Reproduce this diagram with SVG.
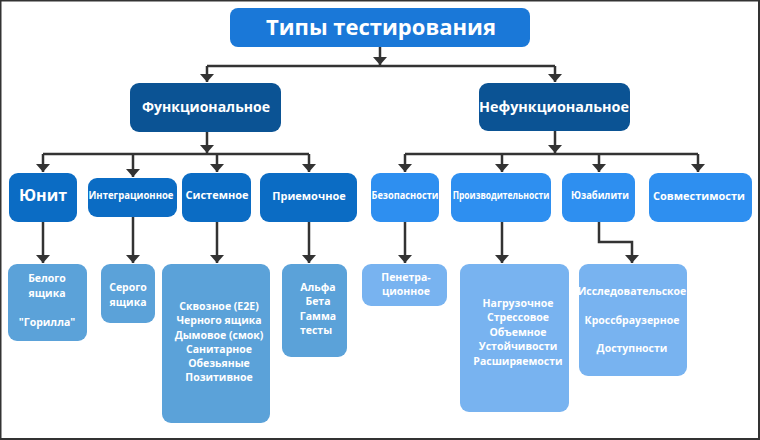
<svg xmlns="http://www.w3.org/2000/svg" width="760" height="440" viewBox="0 0 760 440">
<defs>
<marker id="arr" markerUnits="userSpaceOnUse" markerWidth="8" markerHeight="14" viewBox="0 0 8 14" refX="8" refY="7" orient="auto">
<path d="M0 0 L8 7 L0 14 z" fill="#333"/>
</marker>
<style>
text{font-family:"Open Sans","Noto Sans","DejaVu Sans",sans-serif;font-weight:bold;fill:#fff;text-anchor:middle}
.c{fill:none;stroke:#333;stroke-width:2.5}
.a{marker-end:url(#arr)}
.root{fill:#1a78d8}
.l2{fill:#0b5394}
.l3a{fill:#0b6cc4}
.l3b{fill:#2e8ff0}
.l4a{fill:#5ba2d9}
.l4b{fill:#78b3f0}
.t3{font-size:11px}
.t4{font-size:10.5px}
</style>
</defs>
<rect x="0.5" y="0.5" width="758.5" height="438.5" fill="#fff" stroke="#333" stroke-width="2"/>
<g id="connectors">
<path class="c a" d="M380 47 V65"/>
<path class="c" d="M207 66 H555"/>
<path class="c a" d="M207 66 V82"/>
<path class="c a" d="M555 66 V82"/>
<path class="c a" d="M207 132 V153"/>
<path class="c" d="M43 154 H309"/>
<path class="c a" d="M43 154 V172"/>
<path class="c a" d="M133 154 V177"/>
<path class="c a" d="M217 154 V172"/>
<path class="c a" d="M309 154 V172"/>
<path class="c a" d="M555 131 V153"/>
<path class="c" d="M405 154 H698"/>
<path class="c a" d="M405 154 V172"/>
<path class="c a" d="M502 154 V172"/>
<path class="c a" d="M599 154 V172"/>
<path class="c a" d="M698 154 V172"/>
<path class="c a" d="M43 222 V263"/>
<path class="c a" d="M133 217 V263"/>
<path class="c a" d="M217 222 V263"/>
<path class="c a" d="M309 222 V263"/>
<path class="c a" d="M405 222 V263"/>
<path class="c a" d="M502 222 V263"/>
<path class="c a" d="M599 222 V242 H632 V263"/>
</g>
<g id="root">
<rect class="root" x="230" y="8" width="300" height="39" rx="8"/>
<text x="381" y="35" style="font-size:22px">Типы тестирования</text>
</g>
<g id="func">
<rect class="l2" x="130" y="83" width="151" height="49" rx="9"/>
<text x="206" y="112" style="font-size:14px">Функциональное</text>
</g>
<g id="nonfunc">
<rect class="l2" x="479" y="83" width="151" height="48" rx="9"/>
<text x="554" y="112" style="font-size:14px" textLength="150" lengthAdjust="spacingAndGlyphs">Нефункциональное</text>
</g>
<g id="unit">
<rect class="l3a" x="9" y="173" width="68" height="49" rx="9"/>
<text x="43" y="201" style="font-size:16px">Юнит</text>
</g>
<g id="integr">
<rect class="l3a" x="88" y="178" width="89" height="39" rx="9"/>
<text x="131" y="199" class="t3" textLength="85" lengthAdjust="spacingAndGlyphs">Интеграционное</text>
</g>
<g id="system">
<rect class="l3a" x="182" y="173" width="69" height="49" rx="9"/>
<text x="217" y="199" class="t3">Системное</text>
</g>
<g id="accept">
<rect class="l3a" x="260" y="173" width="97" height="49" rx="9"/>
<text x="309" y="200" class="t3">Приемочное</text>
</g>
<g id="security">
<rect class="l3b" x="371" y="173" width="68" height="49" rx="9"/>
<text x="405" y="199" class="t3" textLength="67" lengthAdjust="spacingAndGlyphs">Безопасности</text>
</g>
<g id="perf">
<rect class="l3b" x="451" y="173" width="100" height="49" rx="9"/>
<text transform="translate(501 199) scale(0.75 1)" x="0" y="0" class="t3" textLength="129" lengthAdjust="spacingAndGlyphs">Производительности</text>
</g>
<g id="usab">
<rect class="l3b" x="562" y="173" width="73" height="49" rx="9"/>
<text x="600" y="199" class="t3" textLength="58" lengthAdjust="spacingAndGlyphs">Юзабилити</text>
</g>
<g id="compat">
<rect class="l3b" x="649" y="173" width="103" height="49" rx="9"/>
<text x="699" y="200" class="t3">Совместимости</text>
</g>
<g id="white">
<rect class="l4a" x="8" y="264" width="79" height="77" rx="9"/>
<text class="t4" x="47" y="282">Белого</text>
<text class="t4" x="47" y="297">ящика</text>
<text class="t4" x="47" y="326">"Горилла"</text>
</g>
<g id="grey">
<rect class="l4a" x="101" y="264" width="54" height="59" rx="9"/>
<text class="t4" x="128" y="291">Серого</text>
<text class="t4" x="128" y="306">ящика</text>
</g>
<g id="syskinds">
<rect class="l4a" x="162" y="264" width="108" height="159" rx="9"/>
<text class="t4" x="219" y="310">Сквозное (E2E)</text>
<text class="t4" x="219" y="324">Черного ящика</text>
<text class="t4" x="219" y="339">Дымовое (смок)</text>
<text class="t4" x="219" y="353">Санитарное</text>
<text class="t4" x="219" y="367">Обезьяные</text>
<text class="t4" x="219" y="381">Позитивное</text>
</g>
<g id="alpha">
<rect class="l4a" x="282" y="264" width="65" height="93" rx="9"/>
<text class="t4" x="318" y="291">Альфа</text>
<text class="t4" x="318" y="305">Бета</text>
<text class="t4" x="318" y="320">Гамма</text>
<text class="t4" x="316" y="334">тесты</text>
</g>
<g id="pen">
<rect class="l4b" x="362" y="264" width="85" height="42" rx="9"/>
<text class="t4" x="406" y="281">Пенетра-</text>
<text class="t4" x="406" y="295">ционное</text>
</g>
<g id="load">
<rect class="l4b" x="460" y="264" width="109" height="148" rx="9"/>
<text class="t4" x="518" y="307">Нагрузочное</text>
<text class="t4" x="518" y="321">Стрессовое</text>
<text class="t4" x="518" y="336">Объемное</text>
<text class="t4" x="518" y="350">Устойчивости</text>
<text class="t4" x="518" y="365">Расширяемости</text>
</g>
<g id="explore">
<rect class="l4b" x="579" y="264" width="108" height="112" rx="9"/>
<text class="t4" x="632" y="295">Исследовательское</text>
<text class="t4" x="632" y="324">Кроссбраузерное</text>
<text class="t4" x="632" y="352">Доступности</text>
</g>
</svg>
